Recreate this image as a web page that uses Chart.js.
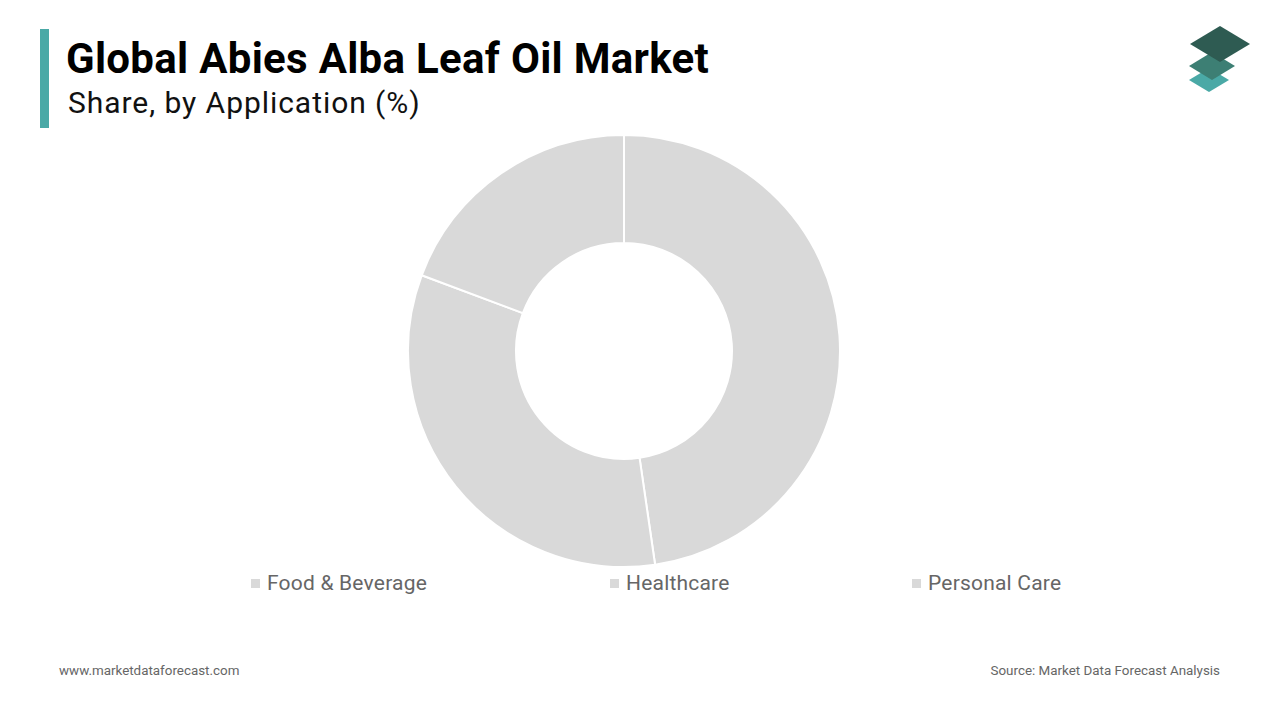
<!DOCTYPE html>
<html><head><meta charset="utf-8">
<script src="https://cdn.jsdelivr.net/npm/chart.js@4"></script>
<style>
body{margin:0;width:1280px;height:720px;background:#fff;font-family:Roboto,sans-serif;position:relative;overflow:hidden}
#bar{position:absolute;left:40px;top:29px;width:9px;height:99px;background:#4aa9a6}
#t1{position:absolute;left:66px;top:34px;font-size:42px;font-weight:700;color:#000;letter-spacing:0.3px}
#t2{position:absolute;left:68px;top:85px;font-size:30px;color:#111;letter-spacing:0.95px}
#wrap{position:absolute;left:407px;top:134px;width:434px;height:434px}
.lg{position:absolute;top:571px;font-size:21px;color:#666;letter-spacing:0.2px}
.lg span{display:inline-block;width:9px;height:9px;background:#d9d9d9;margin-right:7px;vertical-align:2px}
.ft{position:absolute;top:663px;font-size:13.4px;color:#666}
</style></head><body>
<div id="bar"></div>
<div id="t1">Global Abies Alba Leaf Oil Market</div>
<div id="t2">Share, by Application (%)</div>
<svg style="position:absolute;left:1186px;top:24px" width="66" height="70">
<polygon points="3,74 23,62 43,74 23,86" transform="translate(0,-18)" fill="#4aa9a6"/>
<polygon points="3,42 26,28 49,42 26,56" fill="#3d7f74"/>
<polygon points="4,20 34,2 64,20 34,38" fill="#2e5b52"/>
</svg>
<div id="wrap"><canvas id="c"></canvas></div>
<div id="legend"></div>
<div class="ft" style="left:59px">www.marketdataforecast.com</div>
<div class="ft" style="right:60px">Source: Market Data Forecast Analysis</div>
<script>
const categories = ['Food & Beverage', 'Healthcare', 'Personal Care'];
const shares = [47.7, 33, 19.3];
const legendX = [251, 610, 912];

const legend = document.getElementById('legend');
categories.forEach((name, i) => {
    const d = document.createElement('div');
    d.className = 'lg';
    d.style.left = legendX[i] + 'px';
    d.innerHTML = '<span></span>' + name;
    legend.appendChild(d);
});

new Chart(document.getElementById('c'), {
    type: 'doughnut',
    data: {
        labels: categories,
        datasets: [{
            data: shares,
            backgroundColor: '#d9d9d9',
            borderColor: '#ffffff',
            borderWidth: 2
        }]
    },
    options: {
        responsive: true,
        maintainAspectRatio: false,
        animation: false,
        cutout: '50%',
        layout: { padding: 0 },
        plugins: { legend: { display: false }, tooltip: { enabled: false } }
    }
});
</script>
</body></html>
